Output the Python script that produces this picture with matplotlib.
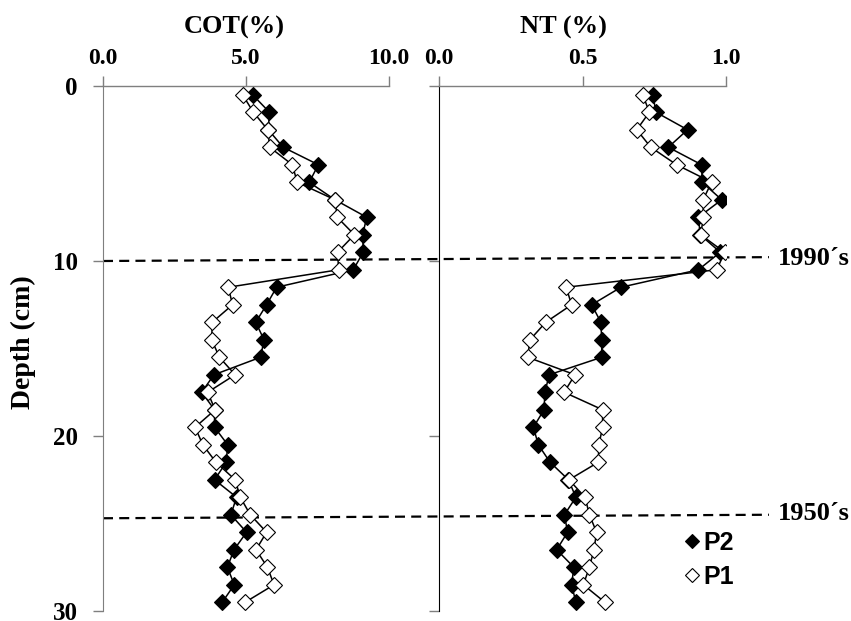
import matplotlib
matplotlib.use("Agg")
import matplotlib.pyplot as plt
import numpy as np

depth = [0.5 + i for i in range(30)]

cot_p2 = [5.23, 5.82, 5.78, 6.30, 7.53, 7.21, 8.11, 9.22, 9.08, 9.10,
          8.75, 6.07, 5.72, 5.34, 5.63, 5.51, 3.88, 3.45, 3.90, 3.90,
          4.36, 4.31, 3.90, 4.67, 4.47, 5.02, 4.58, 4.35, 4.59, 4.17]
cot_p1 = [4.88, 5.26, 5.76, 5.83, 6.62, 6.79, 8.11, 8.19, 8.79, 8.20,
          8.24, 4.38, 4.53, 3.82, 3.80, 4.07, 4.62, 3.66, 3.92, 3.22,
          3.49, 3.95, 4.62, 4.80, 5.15, 5.72, 5.35, 5.75, 5.98, 4.97]

nt_p2 = [0.745, 0.756, 0.866, 0.799, 0.915, 0.917, 0.985, 0.904, 0.910, 0.980,
         0.904, 0.634, 0.532, 0.564, 0.567, 0.567, 0.384, 0.369, 0.366, 0.329,
         0.346, 0.387, 0.451, 0.477, 0.437, 0.448, 0.410, 0.470, 0.462, 0.477]
nt_p1 = [0.710, 0.733, 0.689, 0.738, 0.828, 0.950, 0.920, 0.921, 0.912, 0.995,
         0.968, 0.443, 0.462, 0.372, 0.317, 0.309, 0.474, 0.436, 0.570, 0.570,
         0.557, 0.555, 0.453, 0.509, 0.524, 0.549, 0.540, 0.524, 0.503, 0.578]

cot_ticks = [0.0, 5.0, 10.0]
nt_ticks = [0.0, 0.5, 1.0]
depth_ticks = [0, 10, 20, 30]
series_labels = ["P2", "P1"]
horizon_depths = [10.0, 24.7]
horizon_labels = ["1990\u00b4s", "1950\u00b4s"]

W, H = 851, 621
fig = plt.figure(figsize=(W / 100, H / 100), dpi=100)
serif = "Liberation Serif"
sans = "Liberation Sans"

ax1 = fig.add_axes([103 / W, 1 - 611 / H, 286 / W, 525 / H])
ax2 = fig.add_axes([439 / W, 1 - 611 / H, 287 / W, 525 / H])

ms = 8
for ax, p2, p1, xt, xmax in [(ax1, cot_p2, cot_p1, cot_ticks, 10.0),
                             (ax2, nt_p2, nt_p1, nt_ticks, 1.0)]:
    ax.plot(p2, depth, color="black", lw=1.1, marker="D", ms=ms,
            mfc="black", mec="black", mew=0.8, label=series_labels[0], zorder=3)
    ax.plot(p1, depth, color="black", lw=1.1, marker="D", ms=ms,
            mfc="white", mec="black", mew=0.8, label=series_labels[1], zorder=4)
    ax.set_xlim(0, xmax)
    ax.set_ylim(30, 0)
    ax.xaxis.tick_top()
    ax.set_xticks(xt)
    ax.set_xticklabels([f"{v:.1f}" for v in xt], fontfamily=serif,
                       fontweight="bold", fontsize=17)
    ax.set_yticks(depth_ticks)
    ax.spines["right"].set_visible(False)
    ax.spines["bottom"].set_visible(False)
    ax.spines["top"].set_color("#7f7f7f")
    ax.spines["top"].set_linewidth(1.0)
    ax.tick_params(axis="x", direction="out", length=7, width=1.0,
                   color="#7f7f7f", pad=5)
    ax.tick_params(axis="y", direction="out", length=7, width=1.0,
                   color="#7f7f7f", pad=11)
    ax.patch.set_alpha(0)

ax1.spines["left"].set_color("#7f7f7f")
ax2.spines["left"].set_color("black")
ax1.set_yticklabels([str(v) for v in depth_ticks], fontfamily=serif,
                    fontweight="bold", fontsize=18)
ax2.set_yticklabels([])

# horizon dashed lines across both panels
xr_end = (769 - 103) / 286 * 10.0
for d, lab, dy in zip(horizon_depths, horizon_labels, [-0.22, -0.2]):
    ax1.plot([0, xr_end], [d, d + dy], color="black", lw=1.6,
             dashes=(4.5, 2.8), clip_on=False, zorder=2)

fig.text(778 / W, 1 - 258 / H, horizon_labels[0], fontfamily=serif,
         fontweight="bold", fontsize=19, va="center", ha="left")
fig.text(778 / W, 1 - 514 / H, horizon_labels[1], fontfamily=serif,
         fontweight="bold", fontsize=19, va="center", ha="left")

fig.text(234 / W, 1 - 27 / H, "COT(%)", fontfamily=serif, fontweight="bold",
         fontsize=19, ha="center", va="center")
fig.text(563 / W, 1 - 27 / H, "NT (%)", fontfamily=serif, fontweight="bold",
         fontsize=19, ha="center", va="center")
fig.text(23 / W, 1 - 342 / H, "Depth (cm)", fontfamily=serif,
         fontweight="bold", fontsize=20, ha="center", va="center",
         rotation=90)

leg = ax2.legend(loc="center left", bbox_to_anchor=(661 / W, 1 - 560 / H),
                 bbox_transform=fig.transFigure, frameon=False,
                 handlelength=0.7, handletextpad=0.1, labelspacing=0.4,
                 markerscale=0.85,
                 prop={"family": sans, "weight": "bold", "size": 18})
for h in leg.legend_handles:
    h.set_linestyle("None")

fig.savefig("out.png", dpi=100)
